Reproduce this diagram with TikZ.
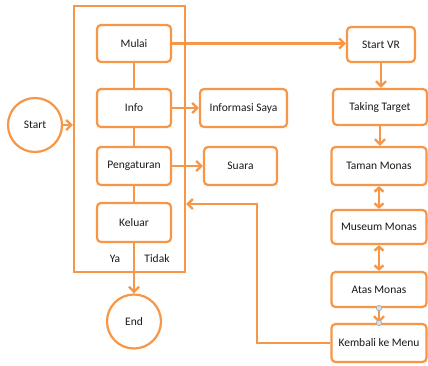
\documentclass[tikz,border=0pt]{standalone}
\usepackage{fontspec}
\setmainfont{Carlito}
\usetikzlibrary{arrows.meta}
\definecolor{org}{HTML}{F79646}
\definecolor{hnd}{HTML}{D5E1EE}
\tikzset{
  box/.style={draw=org, line width=2.2pt, rounded corners=4pt, fill=white, text=black!90, font=\fontsize{11.5}{13}\selectfont, inner sep=0pt},
  circ/.style={draw=org, line width=2.2pt, circle, fill=white, text=black!90, font=\fontsize{11.5}{13}\selectfont, minimum size=54pt, inner sep=0pt},
  conn/.style={draw=org, line width=2.4pt},
  thin conn/.style={draw=org, line width=1.5pt},
  arr/.style={conn, -{Straight Barb[length=5pt,width=10pt]}},
  darr/.style={conn, {Straight Barb[length=4pt,width=9pt]}-{Straight Barb[length=4pt,width=9pt]}},
  lbl/.style={text=black!90, font=\fontsize{11.5}{13}\selectfont, inner sep=0pt},
  handle/.style={circle, draw=gray!70, fill=hnd, line width=0.6pt, minimum size=5.5pt, inner sep=0pt}
}
\begin{document}
\begin{tikzpicture}[x=1pt,y=-1pt]
\useasboundingbox (0,0) rectangle (428,365);
% frame
\node[draw=org, line width=2.2pt, minimum width=111pt, minimum height=266pt, inner sep=0pt] (fr) at (129.5,139) {};
% left column
\node[box, minimum width=74pt, minimum height=37pt] (mulai) at (134,43.5) {Mulai};
\node[box, minimum width=74pt, minimum height=38pt] (info) at (134,108) {Info};
\node[box, minimum width=74pt, minimum height=38pt] (peng) at (134,166) {Pengaturan};
\node[box, minimum width=74pt, minimum height=39pt] (kel) at (134,222.5) {Keluar};
% middle
\node[box, minimum width=87pt, minimum height=38pt] (infs) at (243.5,108) {Informasi Saya};
\node[box, minimum width=73pt, minimum height=38pt] (suara) at (240.5,166) {Suara};
% right column
\node[box, minimum width=68pt, minimum height=35pt] (svr) at (381,44.5) {Start VR};
\node[box, minimum width=94pt, minimum height=36pt] (tt) at (380,107) {Taking Target};
\node[box, minimum width=95pt, minimum height=38pt] (taman) at (379,166) {Taman Monas};
\node[box, minimum width=95pt, minimum height=34pt] (mus) at (379,227) {Museum Monas};
\node[box, minimum width=95pt, minimum height=35pt] (atas) at (379,289.5) {Atas Monas};
\node[box, minimum width=95pt, minimum height=38pt] (kem) at (379,343) {Kembali ke Menu};
% circles
\node[circ] (start) at (35,125) {Start};
\node[circ] (end) at (134,321.5) {End};
% labels
\node[lbl] (ya) at (115,259) {Ya};
\node[lbl] (tidak) at (157,259) {Tidak};
% connectors
\draw[arr] (start.east) -- (start.east -| fr.west);
\draw[thin conn] (mulai) -- (info);
\draw[thin conn] (info) -- (peng);
\draw[thin conn] (peng) -- (kel);
\draw[arr] (kel.south) -- (end.north);
\draw[arr] (info.east) -- (infs.west);
\draw[arr] (peng.east) -- (suara.west);
\draw[arr] (mulai.east) -- (mulai.east -| svr.west);
\draw[arr] (svr) -- (svr.south |- tt.north);
\draw[arr] (tt) -- (tt.south |- taman.north);
\draw[darr] (taman.south) -- (mus.north);
\draw[darr] (mus.south) -- (atas.north);
\draw[arr] (atas.south) -- (kem.north);
\node[handle] (h1) at (atas.south) {};
\node[handle] (h2) at (kem.north) {};
\coordinate (k1) at (257,343);
\coordinate (k2) at (257,204);
\draw[arr] (kem.west) -- (k1) -- (k2) -- (k2 -| fr.east);
\end{tikzpicture}
\end{document}
